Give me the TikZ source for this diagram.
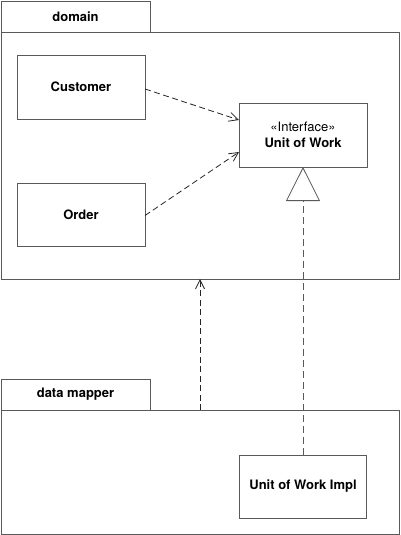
\documentclass[tikz,border=0pt]{standalone}
\usepackage{fontspec}
\setmainfont{TeX Gyre Heros}
\usetikzlibrary{arrows.meta}
\begin{document}
\begin{tikzpicture}[x=1pt,y=-1pt,
  box/.style={draw=black!65, line width=0.8pt, fill=white, inner sep=0pt, outer sep=0pt,
    font=\fontsize{13}{16}\selectfont\bfseries, align=center},
  dep/.style={draw=black!85, line width=0.8pt, dash pattern=on 6pt off 3.5pt,
    -{Straight Barb[length=9pt,width=9pt]}},
  real/.style={draw=black!65, line width=0.8pt, dash pattern=on 7pt off 4pt,
    -{Triangle[open,length=34pt,width=34pt,fill=white]}}]
\useasboundingbox (0,0) rectangle (400,535);
% domain package
\node[box, minimum width=149pt, minimum height=31pt] (domtab) at (75.5,16.5) {domain};
\node[box, minimum width=398pt, minimum height=247pt] (dombody) at (200,155.5) {};
\node[box, minimum width=128pt, minimum height=64pt] (cust) at (81,87) {Customer};
\node[box, minimum width=128pt, minimum height=63pt] (ord) at (81,214.5) {Order};
\node[box, minimum width=128pt, minimum height=64pt] (uow) at (303,135) {{\mdseries «Interface»}\\Unit of Work};
% data mapper package
\node[box, minimum width=149pt, minimum height=31pt] (dmtab) at (75.5,394.5) {data mapper};
\node[box, minimum width=398pt, minimum height=124pt] (dmbody) at (200,472) {};
\node[box, minimum width=127pt, minimum height=63pt] (impl) at (303,486.5) {Unit of Work Impl};
% connectors
\draw[dep] ([yshift=-2pt]cust.east) -- ([yshift=15pt]uow.west);
\draw[dep] ([yshift=-1pt]ord.east) -- ([yshift=-17pt]uow.west);
\draw[real] (impl.north) -- (uow.south);
\draw[dep] (dmbody.north) -- (dombody.south);
\end{tikzpicture}
\end{document}
